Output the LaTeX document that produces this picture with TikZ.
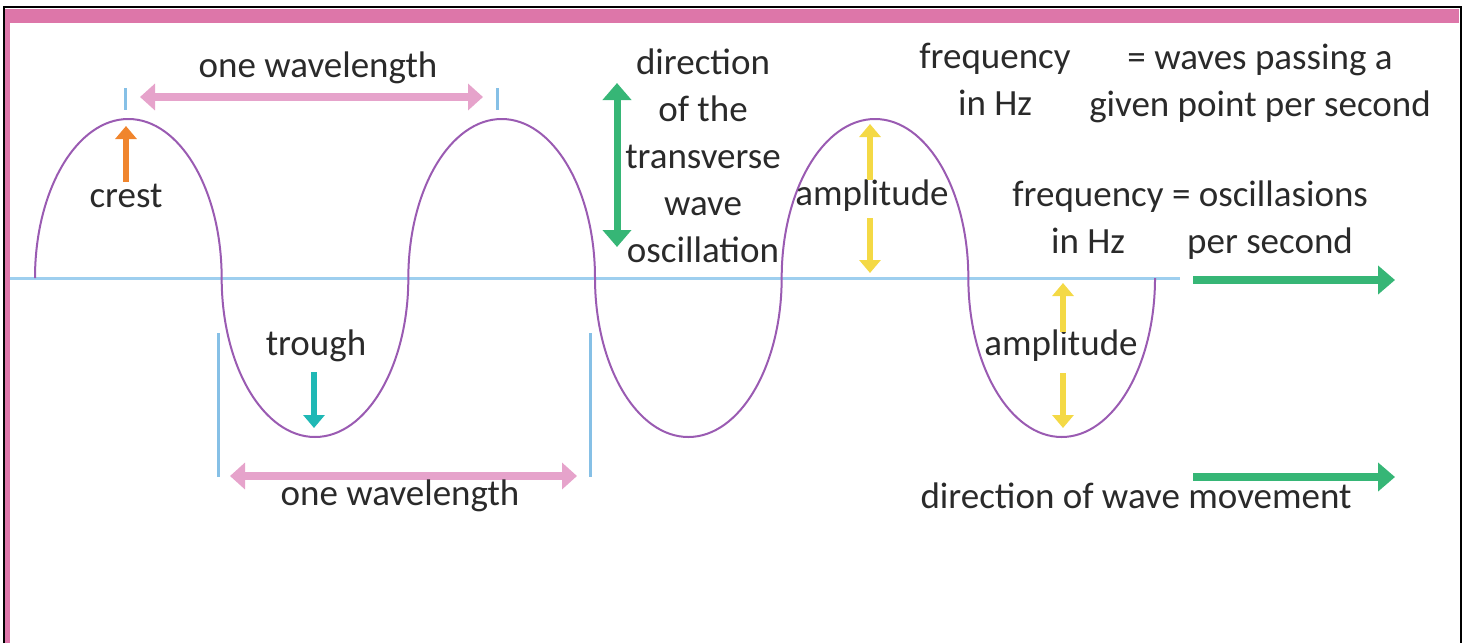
\documentclass[tikz,border=0pt]{standalone}
\usepackage{fontspec}
\setmainfont{Carlito}
\usetikzlibrary{arrows.meta,positioning}
\definecolor{framepink}{HTML}{DD76A9}
\definecolor{axisblue}{HTML}{9ECFEF}
\definecolor{tickblue}{HTML}{86C0E6}
\definecolor{wavepurple}{HTML}{9A5BB2}
\definecolor{arrowpink}{HTML}{E6A3CB}
\definecolor{crestorange}{HTML}{F0852D}
\definecolor{troughteal}{HTML}{1FB8B5}
\definecolor{ampyellow}{HTML}{F4D945}
\definecolor{movegreen}{HTML}{36B676}
\definecolor{textgray}{HTML}{2A2A2A}
\tikzset{
  wave/.style={wavepurple,line width=2pt},
  axisline/.style={axisblue,line width=3pt},
  tickline/.style={tickblue,line width=3pt},
  txt/.style={text=textgray,font=\fontsize{37}{47}\selectfont,align=center,inner sep=0pt},
  pinkarrow/.style={{Triangle[width=26pt,length=15pt]}-{Triangle[width=26pt,length=15pt]},arrowpink,line width=8pt},
  greenarrow/.style={-{Triangle[width=28pt,length=17pt]},movegreen,line width=8pt},
  greenboth/.style={{Triangle[width=28pt,length=17pt]}-{Triangle[width=28pt,length=17pt]},movegreen,line width=7pt},
  smallarrow/.style={-{Triangle[width=21pt,length=13pt]},line width=6pt}
}
\begin{document}
\begin{tikzpicture}[x=1pt,y=-1pt]
\useasboundingbox (0,0) rectangle (1469,643);
% frame
\fill[framepink] (5,9) rectangle (1459,23);
\fill[framepink] (5,9) rectangle (10,643);
\draw[black,line width=2.5pt] (4,643) |- (1461,7) -- (1461,643);
% baseline and wave
\draw[axisline] (10,278) -- (1180,278);
\foreach \k in {0,...,5}{
  \pgfmathsetmacro{\xs}{35+186.67*\k}
  \pgfmathsetmacro{\ea}{mod(\k,2)==0 ? 360 : 0}
  \draw[wave] (\xs,278) arc[start angle=180,end angle=\ea,x radius=93.33,y radius=159];
}
\coordinate (crestA) at (126,126);
\coordinate (troughA) at (314,428);
% wavelength over the crests
\draw[tickline] (125,88) -- (125,110);
\draw[tickline] (497,88) -- (497,110);
\coordinate (wlA) at (140,97);
\coordinate (wlB) at (483,97);
\draw[pinkarrow] (wlA) -- (wlB);
\node[txt] (wltop) at (318,68) {one wavelength};
% crest and trough
\node[txt] (crest) at (126,196) {crest};
\draw[smallarrow,crestorange] (crestA |- crest.north) ++(0,-2) -- (crestA);
\node[txt] (trough) at (316,346) {trough};
\draw[smallarrow,troughteal] (troughA |- 0,372) -- (troughA);
% wavelength under the troughs
\draw[tickline] (218,333) -- (218,477);
\draw[tickline] (590,333) -- (590,477);
\coordinate (wlC) at (230,476);
\coordinate (wlD) at (577,476);
\draw[pinkarrow] (wlC) -- (wlD);
\node[txt] (wlbot) at (400,496) {one wavelength};
% transverse oscillation
\coordinate (oscTop) at (617,83);
\coordinate (oscBot) at (617,247);
\draw[greenboth] (oscBot) -- (oscTop);
\node[txt] (osc) at (703,156) {direction\\of the\\transverse\\wave\\oscillation};
% amplitudes
\node[txt] (ampA) at (872,196) {amplitude};
\draw[smallarrow,ampyellow] (870,180) -- (870,124);
\draw[smallarrow,ampyellow] (870,218) -- (870,273);
\node[txt] (ampB) at (1061,346) {amplitude};
\draw[smallarrow,ampyellow] (1063,332) -- (1063,283);
\draw[smallarrow,ampyellow] (1063,373) -- (1063,428);
% frequency
\node[txt] (freqA) at (995,79) {frequency\\in Hz};
\node[txt] (freqAdef) at (1260,83) {= waves passing a\\given point per second};
\node[txt] (freqB) at (1088,217) {frequency\\in Hz};
\node[txt] (freqBdef) at (1270,220) {= oscillasions\\per second};
% wave movement
\coordinate (mvA) at (1193,280);
\coordinate (mvB) at (1395,280);
\draw[greenarrow] (mvA) -- (mvB);
\coordinate (mvC) at (1193,477);
\coordinate (mvD) at (1395,477);
\draw[greenarrow] (mvC) -- (mvD);
\node[txt] (move) at (1136,496) {direction of wave movement};
\end{tikzpicture}
\end{document}
